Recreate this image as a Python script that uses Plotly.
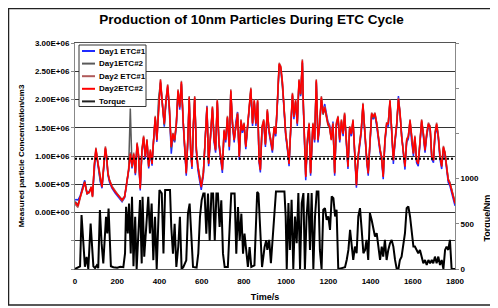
import plotly.graph_objects as go

# ---------------- data ----------------
# particle concentration sample times (s)
time_pm = [0, 5, 14, 25, 36, 46, 57, 68, 77, 83, 91, 99, 109, 120, 128, 137, 144, 150, 156, 163,
           175, 191, 207, 223, 235, 243, 254, 262, 270, 278, 286, 294, 301, 309, 317, 325, 333, 341,
           349, 357, 365, 372, 380, 388, 396, 405, 415, 423, 431, 439, 447,
           456, 464, 472, 480, 488, 496, 504, 513, 520, 527, 535, 541, 548, 554, 561, 567, 575, 582,
           590, 598, 608, 617, 625, 633, 643, 651, 659, 666, 674, 682, 690, 698, 706, 714, 722, 731,
           738, 746, 754, 762, 770, 778, 786, 793, 801, 809, 817, 825, 833, 841, 849, 857, 865, 872,
           878, 886, 894,
           902, 911, 919, 927, 935, 943, 951, 959, 967, 975, 983, 990, 998, 1006, 1014, 1022, 1030,
           1037, 1045, 1053, 1061, 1069, 1077, 1082, 1088, 1093, 1101, 1109, 1116, 1127, 1135, 1143,
           1151, 1159, 1167, 1175, 1183, 1191, 1198, 1206, 1214, 1222, 1230, 1238, 1246, 1254, 1262,
           1270, 1277, 1285, 1293, 1301, 1309, 1317, 1325, 1333, 1341, 1349,
           1356, 1364, 1374, 1382, 1389, 1397, 1405, 1413, 1421, 1429, 1437, 1445, 1452, 1460, 1468,
           1476, 1484, 1492, 1500, 1508, 1516, 1524, 1532, 1540, 1547, 1555, 1563, 1571, 1579, 1587,
           1595, 1603, 1610, 1618, 1626, 1634, 1642, 1650, 1658, 1666, 1674, 1682, 1690, 1698, 1705,
           1713, 1721, 1729, 1737, 1745, 1753, 1760, 1768, 1776, 1784, 1792, 1800]

# concentrations in units of 1e5 particles/cm3
day1_etc1 = [2.2, 2.3, 2.2, 3.0, 4.5, 5.7, 3.2, 3.8, 4.3, 3.0, 7.8, 11.0, 8.3, 5.4, 4.3, 8.3, 11.2, 9.5, 6.6, 5.4,
             4.3, 3.4, 2.6, 1.9, 2.6, 4.3, 7.3, 10.6, 7.8, 10.1, 6.6, 11.9, 9.8, 3.9, 10.7, 13.1, 9.5, 12.5, 7.8, 10.7,
             8.3, 12.5, 16.6, 12.5, 18.9, 23.0, 18.3, 15.2, 19.5, 22.2, 18.0,
             10.4, 13.6, 12.4, 15.3, 21.3, 18.2, 22.7, 15.3, 10.6, 6.5, 13.0, 20.0, 10.6, 7.7, 15.3, 20.0, 10.6, 7.5, 5.7, 4.0,
             6.5, 12.4, 18.9, 8.2, 14.7, 18.2, 12.4, 10.6, 19.4, 11.8, 9.4, 7.0, 14.1, 12.4, 16.5, 11.0, 21.2, 15.3, 12.4, 16.1,
             17.8, 9.3, 15.9, 14.1, 15.3, 11.2, 14.7, 18.2, 21.5, 15.3, 19.4, 15.3, 19.4, 8.8, 7.1, 14.7, 15.9,
             11.6, 17.7, 14.1, 12.4, 10.6, 14.7, 13.5, 19.4, 25.9, 25.3, 22.4, 18.2, 13.5, 11.2, 8.2, 14.7, 20.6, 16.5, 19.4, 15.3,
             23.0, 20.6, 26.5, 18.2, 9.4, 5.7, 12.4, 15.3, 6.5, 15.3, 12.4, 23.0, 12.4, 15.3, 20.0, 17.9, 19.2, 17.3, 16.1, 15.5,
             13.4, 16.1, 6.5, 15.3, 16.5, 12.4, 15.9, 13.5, 17.1, 12.4, 7.7, 14.7, 13.5, 15.9, 8.8, 4.4, 9.4, 12.4,
             14.1, 18.8, 12.4, 8.8, 6.5, 12.4, 17.1, 16.5, 17.1, 15.3, 12.4, 10.6, 9.4, 5.9, 12.4, 15.3, 15.3, 19.4, 14.1, 8.6,
             12.4, 15.3, 20.6, 17.1, 13.0, 10.6, 7.6, 12.4, 13.0, 15.9, 12.4, 10.0, 13.0, 8.8, 8.2, 12.4, 15.9, 13.5, 10.6, 13.5,
             15.3, 14.7, 9.4, 8.8, 13.5, 15.3, 13.0, 9.4, 7.7, 11.2, 10.0, 7.7, 5.3, 4.7, 3.5, 2.4, 1.2]

day1_etc2 = [1.9, 1.8, 1.4, 2.9, 4.3, 5.5, 3.5, 3.7, 4.4, 2.9, 8.0, 11.1, 8.5, 5.6, 4.6, 8.4, 11.3, 9.7, 6.8, 5.8,
             4.6, 3.7, 2.9, 2.3, 2.9, 4.6, 7.6, 18.4, 8.0, 10.2, 7.0, 12.0, 10.0, 4.5, 10.8, 13.2, 9.9, 12.6, 8.3, 10.8,
             8.8, 12.6, 16.7, 13.0, 20.3, 23.0, 18.8, 15.5, 20.0, 22.0, 18.4,
             11.4, 14.0, 12.6, 15.5, 21.4, 19.0, 22.8, 15.9, 11.2, 7.1, 13.2, 20.2, 11.2, 8.3, 15.5, 20.2, 11.2, 8.3, 6.5, 4.8,
             7.1, 12.6, 18.4, 8.8, 14.9, 18.4, 13.0, 11.2, 19.6, 12.4, 10.0, 7.7, 14.3, 13.0, 16.7, 11.8, 21.4, 15.9, 13.0, 15.5,
             17.3, 10.0, 16.1, 14.7, 15.5, 11.8, 14.9, 18.4, 21.7, 15.9, 19.6, 15.9, 19.6, 9.4, 7.7, 14.9, 16.1,
             12.2, 17.9, 14.7, 12.6, 11.2, 14.9, 14.1, 19.6, 26.0, 25.5, 22.6, 18.8, 14.1, 11.8, 8.8, 14.9, 20.8, 17.1, 19.6, 15.9,
             23.2, 20.8, 26.6, 18.8, 10.0, 6.5, 12.6, 15.5, 7.1, 15.5, 13.0, 23.2, 13.0, 15.5, 20.2, 17.3, 18.4, 16.7, 15.5, 14.9,
             13.0, 15.5, 7.1, 15.5, 16.7, 13.0, 16.1, 14.1, 17.3, 13.0, 8.3, 14.9, 14.1, 16.1, 9.4, 5.0, 10.0, 12.6,
             14.7, 19.0, 13.0, 9.4, 7.1, 12.6, 17.3, 16.7, 17.3, 15.9, 13.0, 11.2, 10.0, 6.5, 12.6, 15.5, 15.9, 19.6, 14.7, 9.4,
             12.6, 15.5, 19.9, 17.3, 13.6, 11.2, 8.3, 12.6, 13.6, 16.1, 13.0, 10.6, 13.2, 9.4, 8.8, 12.6, 16.1, 14.1, 11.2, 13.7,
             15.5, 15.3, 10.0, 9.4, 13.7, 15.5, 13.6, 10.0, 8.3, 11.4, 10.6, 8.3, 5.9, 5.3, 4.1, 3.0, 1.8]

day2_etc1 = [1.5, 1.3, 0.9, 2.6, 4.0, 5.2, 3.3, 3.5, 4.6, 2.7, 8.3, 11.5, 8.8, 5.9, 4.7, 8.8, 11.7, 10.0, 7.1, 5.9,
             4.7, 3.8, 3.0, 2.0, 2.7, 4.4, 7.7, 10.6, 8.3, 10.6, 7.1, 12.4, 10.3, 4.4, 11.2, 13.6, 10.0, 13.0, 8.3, 11.2,
             8.8, 13.0, 17.1, 13.0, 18.8, 23.6, 18.8, 15.9, 20.0, 22.7, 18.8,
             11.8, 14.1, 13.0, 15.9, 21.8, 18.8, 23.3, 15.9, 11.2, 7.1, 13.6, 20.6, 11.2, 8.3, 15.9, 20.6, 11.2, 8.3, 6.5, 4.7,
             7.1, 13.0, 18.8, 8.8, 15.3, 18.8, 13.0, 11.2, 20.0, 12.4, 10.0, 7.7, 14.7, 13.0, 17.1, 11.8, 21.8, 15.9, 13.0, 15.9,
             17.7, 10.0, 16.5, 14.7, 15.9, 11.8, 15.3, 18.8, 22.1, 15.9, 20.0, 15.9, 20.0, 9.4, 7.7, 15.3, 16.5,
             12.2, 18.3, 14.7, 13.0, 11.2, 15.3, 14.1, 20.0, 26.5, 25.9, 23.0, 18.8, 14.1, 11.8, 8.8, 15.3, 21.2, 17.1, 20.0, 15.9,
             23.6, 21.2, 27.1, 18.8, 10.0, 6.5, 13.0, 15.9, 7.1, 15.9, 13.0, 23.6, 13.0, 15.9, 20.6, 17.7, 18.8, 17.1, 15.9, 15.3,
             13.0, 15.9, 7.1, 15.9, 17.1, 13.0, 16.5, 14.1, 17.7, 13.0, 8.3, 15.3, 14.1, 16.5, 9.4, 5.0, 10.0, 13.0,
             14.7, 19.4, 13.0, 9.4, 7.1, 13.0, 17.7, 17.1, 17.7, 15.9, 13.0, 11.2, 10.0, 6.5, 13.0, 15.9, 15.9, 20.0, 14.7, 9.4,
             13.0, 15.9, 20.3, 17.7, 13.6, 11.2, 8.3, 13.0, 13.6, 16.5, 13.0, 10.6, 13.6, 9.4, 8.8, 13.0, 16.5, 14.1, 11.2, 14.1,
             15.9, 15.3, 10.0, 9.4, 14.1, 15.9, 13.6, 10.0, 8.3, 11.8, 10.6, 8.3, 5.9, 5.3, 4.1, 3.0, 1.8]

day2_etc2 = [1.8, 1.6, 1.2, 2.8, 4.2, 5.4, 3.4, 3.6, 4.5, 2.8, 8.1, 11.3, 8.6, 5.7, 4.5, 8.6, 11.5, 9.8, 6.9, 5.7,
             4.5, 3.6, 2.8, 2.2, 2.8, 4.5, 7.5, 10.4, 8.1, 10.4, 6.9, 12.2, 10.1, 4.2, 11.0, 13.4, 9.8, 12.8, 8.1, 11.0,
             8.6, 12.8, 16.9, 12.8, 18.6, 23.4, 18.6, 15.7, 19.8, 22.5, 18.6,
             11.6, 13.9, 12.8, 15.7, 21.6, 18.6, 23.1, 15.7, 11.0, 6.9, 13.4, 20.4, 11.0, 8.1, 15.7, 20.4, 11.0, 8.1, 6.3, 4.5,
             6.9, 12.8, 18.6, 8.6, 15.1, 18.6, 12.8, 11.0, 19.8, 12.2, 9.8, 7.5, 14.5, 12.8, 16.9, 11.6, 21.6, 15.7, 12.8, 15.7,
             17.5, 9.8, 16.3, 14.5, 15.7, 11.6, 15.1, 18.6, 21.9, 15.7, 19.8, 15.7, 19.8, 9.2, 7.5, 15.1, 16.3,
             12.0, 18.1, 14.5, 12.8, 11.0, 15.1, 13.9, 19.8, 26.3, 25.7, 22.8, 18.6, 13.9, 11.6, 8.6, 15.1, 21.0, 16.9, 19.8, 15.7,
             23.4, 21.0, 26.9, 18.6, 9.8, 6.3, 12.8, 15.7, 6.9, 15.7, 12.8, 23.4, 12.8, 15.7, 20.4, 17.5, 18.6, 16.9, 15.7, 15.1,
             12.8, 15.7, 6.9, 15.7, 16.9, 12.8, 16.3, 13.9, 17.5, 12.8, 8.1, 15.1, 13.9, 16.3, 9.2, 4.8, 9.8, 12.8,
             14.5, 19.2, 12.8, 9.2, 6.9, 12.8, 17.5, 16.9, 17.5, 15.7, 12.8, 11.0, 9.8, 6.3, 12.8, 15.7, 15.7, 19.8, 14.5, 9.2,
             12.8, 15.7, 20.1, 17.5, 13.4, 11.0, 8.1, 12.8, 13.4, 16.3, 12.8, 10.4, 13.4, 9.2, 8.6, 12.8, 16.3, 13.9, 11.0, 13.9,
             15.7, 15.1, 9.8, 9.2, 13.9, 15.7, 13.4, 9.8, 8.1, 11.6, 10.4, 8.1, 5.7, 5.1, 3.9, 2.8, 1.6]

# torque trace (s, Nm)
time_torque = [0, 10, 24, 31, 39, 47, 55, 63, 74, 82, 87, 95, 103, 110, 118, 126, 134, 147, 153, 159,
               166, 170, 182, 200, 215, 229, 237, 242, 250, 256, 264, 270, 277, 285, 292, 308, 316, 320,
               328, 339, 347, 355, 363, 371, 379, 387, 400, 411, 419, 427, 450, 456, 464, 472, 480, 489,
               497, 505, 513, 527, 535, 543, 551, 559, 576, 584, 592, 600, 608, 614, 622, 630, 638, 646,
               654, 662, 670, 677, 685, 693, 701, 709, 724, 740, 756, 764, 772, 780, 788, 796, 803, 811,
               819, 827, 835, 850, 863, 869, 878, 886, 898, 906, 911, 920, 928, 936, 944, 952, 992, 998,
               1003, 1011, 1018, 1026, 1034, 1042, 1050, 1058, 1066, 1074, 1082, 1089, 1097, 1105, 1113,
               1121, 1129, 1137, 1145, 1153, 1160, 1168, 1176, 1184, 1192, 1200, 1208, 1216, 1224, 1232,
               1239, 1247, 1263, 1279, 1287, 1295, 1303, 1311, 1318, 1326, 1334, 1342, 1350, 1358, 1366,
               1374, 1381, 1389, 1397, 1405, 1413, 1421, 1429, 1437, 1445, 1453, 1460, 1468, 1476, 1484,
               1492, 1500, 1508, 1516, 1524, 1532, 1539, 1547, 1555, 1563, 1571, 1579, 1587, 1595, 1603,
               1610, 1618, 1626, 1634, 1642, 1650, 1658, 1666, 1674, 1682, 1690, 1697, 1705, 1713, 1721,
               1729, 1737, 1745, 1753, 1760, 1768, 1776, 1784, 1800]
torque = [0, 10, 30, 596, 246, 25, 135, 0, 504, 246, 30, 10, 40, 10, 651, 283, 62, 578, 393, 670,
          283, 30, 20, 15, 25, 20, 172, 688, 393, 725, 172, 799, 30, 578, 0, 762, 62, 799,
          135, 578, 799, 393, 725, 98, 578, 0, 873, 836, 172, 873, 873, 465, 170, 500, 22, 246,
          578, 0, 20, 96, 612, 723, 317, 22, 15, 172, 578, 762, 834, 834, 391, 834, 317, 834,
          834, 317, 834, 834, 465, 760, 170, 22, 22, 834, 834, 170, 686, 317, 612, 170, 391, 170,
          22, 243, 22, 40, 852, 834, 317, 22, 243, 317, 211, 322, 63, 322, 618, 858, 858, 581,
          0, 729, 211, 766, 0, 581, 285, 840, 0, 729, 840, 0, 581, 840, 211,
          840, 0, 581, 858, 858, 211, 0, 655, 673, 544, 581, 433, 803, 784, 581,
          655, 0, 10, 20, 100, 211, 433, 211, 100, 248, 174, 581, 673, 433, 174,
          211, 322, 100, 618, 544, 433, 359, 396, 248, 100, 248, 137, 322, 100, 211,
          285, 322, 248, 100, 0, 0, 100, 137, 285, 396, 673, 692, 581, 396, 248,
          248, 211, 174, 211, 137, 63, 100, 44, 100, 63, 100, 63, 137, 63, 137,
          44, 100, 0, 211, 248, 211, 322, 0, 0]

reference_level = [9.5e5]            # dotted horizontal reference line (particles/cm3)

series_names = ["Day1 ETC#1", "Day1ETC#2", "Day2 ETC#1", "Day2ETC#2"]
series_colors = ["#1f2bff", "#5a5a5a", "#b05a5a", "#ff0000"]
torque_name = "Torque"

conc_ticks = [-1e6, -5e5, 0, 5e5, 1e6, 1.5e6, 2e6, 2.5e6, 3e6]
conc_labels = ["", "", "0.00E+00", "5.00E+05", "1.00E+06", "1.50E+06", "2.00E+06", "2.50E+06", "3.00E+06"]
torque_ticks = [0, 500, 1000, 1500, 2000, 2500]
torque_labels = ["0", "500", "1000", "", "", ""]
time_ticks = list(range(0, 1801, 200))

for s in (day1_etc1, day1_etc2, day2_etc1, day2_etc2):
    assert len(s) == len(time_pm), (len(s), len(time_pm))
assert len(torque) == len(time_torque), (len(torque), len(time_torque))

# ---------------- figure ----------------
OFF = 8                      # page body margin of the html page
W, H = 490, 300
ML, MR, MT, MB = 67, 43, 35, 39
PW, PH = W - ML - MR, H - MT - MB


def px(x):                   # screen pixel -> paper x
    return (x - OFF - ML) / PW


def py(y):                   # screen pixel -> paper y
    return (H - MB - (y - OFF)) / PH


FONT = "Liberation Sans, Arial, sans-serif"
fig = go.Figure()

for name, vals, col in zip(series_names, [day1_etc1, day1_etc2, day2_etc1, day2_etc2], series_colors):
    fig.add_trace(go.Scatter(x=time_pm, y=[v * 1e5 for v in vals], name=name, mode="lines",
                             line=dict(color=col, width=1.5), showlegend=False))

fig.add_trace(go.Scatter(x=[time_ticks[0], time_ticks[-1]], y=reference_level * 2, mode="lines",
                         line=dict(color="black", width=2, dash="2px,2px"), showlegend=False,
                         hoverinfo="skip"))

fig.add_trace(go.Scatter(x=time_torque, y=torque, name=torque_name, mode="lines", yaxis="y2",
                         line=dict(color="black", width=2), showlegend=False))

fig.update_layout(
    width=W, height=H,
    margin=dict(l=ML, r=MR, t=MT, b=MB, autoexpand=False),
    paper_bgcolor="white", plot_bgcolor="white",
    font=dict(family=FONT, size=8, color="black"),
    title=dict(text="Production of 10nm Particles During ETC Cycle", x=(251.5 - OFF) / W,
               xanchor="center", y=1 - (19 - OFF) / H, yanchor="middle", yref="container",
               font=dict(size=13.5, weight="bold", family=FONT)),
    xaxis=dict(range=[0, 1800], tickvals=time_ticks, showgrid=False, zeroline=False,
               showline=True, linecolor="#555", linewidth=1, mirror=True,
               ticks="outside", ticklen=4, tickcolor="rgba(0,0,0,0)",
               tickfont=dict(size=8, weight="bold"),
               title=dict(text="Time/s", font=dict(size=9, weight="bold"), standoff=9)),
    yaxis=dict(range=[-1e6, 3e6], tickvals=conc_ticks, ticktext=conc_labels,
               showgrid=True, gridcolor="#333", gridwidth=1, zeroline=False,
               showline=True, linecolor="#888", linewidth=1,
               ticks="outside", ticklen=3, tickcolor="#888", tickfont=dict(size=8, weight="bold"),
               title=dict(text="Measured particle Concentration/cm3", font=dict(size=8, weight="bold"),
                          standoff=9)),
    yaxis2=dict(range=[0, 2500], tickvals=torque_ticks, ticktext=torque_labels, overlaying="y",
                side="right", showgrid=False, zeroline=False, showline=True, linecolor="#888",
                linewidth=1, ticks="outside", ticklen=3, tickcolor="#888",
                tickfont=dict(size=8, weight="bold")),
    showlegend=False,
)

annotations = [dict(text="Torque/Nm", x=px(486), y=py(217.5), xref="paper", yref="paper",
                    textangle=-90, showarrow=False, xanchor="center", yanchor="middle",
                    font=dict(size=9, weight="bold", family=FONT))]
shapes = [
    # outer chart frame
    dict(type="rect", xref="paper", yref="paper", x0=px(8.5), x1=px(496), y0=py(305), y1=py(8.5),
         line=dict(color="#222", width=1.5), layer="below"),
    # legend box
    dict(type="rect", xref="paper", yref="paper", x0=px(79), x1=px(146), y0=py(106.5), y1=py(45),
         line=dict(color="#333", width=1), fillcolor="white", layer="above"),
]
legend_y = [51, 63.6, 76.2, 88.8, 101.4]
legend_items = list(zip(series_names + [torque_name], series_colors + ["#222"]))
for (name, col), yy in zip(legend_items, legend_y):
    shapes.append(dict(type="line", xref="paper", yref="paper", x0=px(82), x1=px(95),
                       y0=py(yy), y1=py(yy), line=dict(color=col, width=2), layer="above"))
    annotations.append(dict(text=name, x=px(97), y=py(yy), xref="paper", yref="paper",
                            showarrow=False, xanchor="left", yanchor="middle",
                            font=dict(size=8, weight="bold", family=FONT)))
fig.update_layout(shapes=shapes, annotations=annotations)

fig.write_html("out.html")
